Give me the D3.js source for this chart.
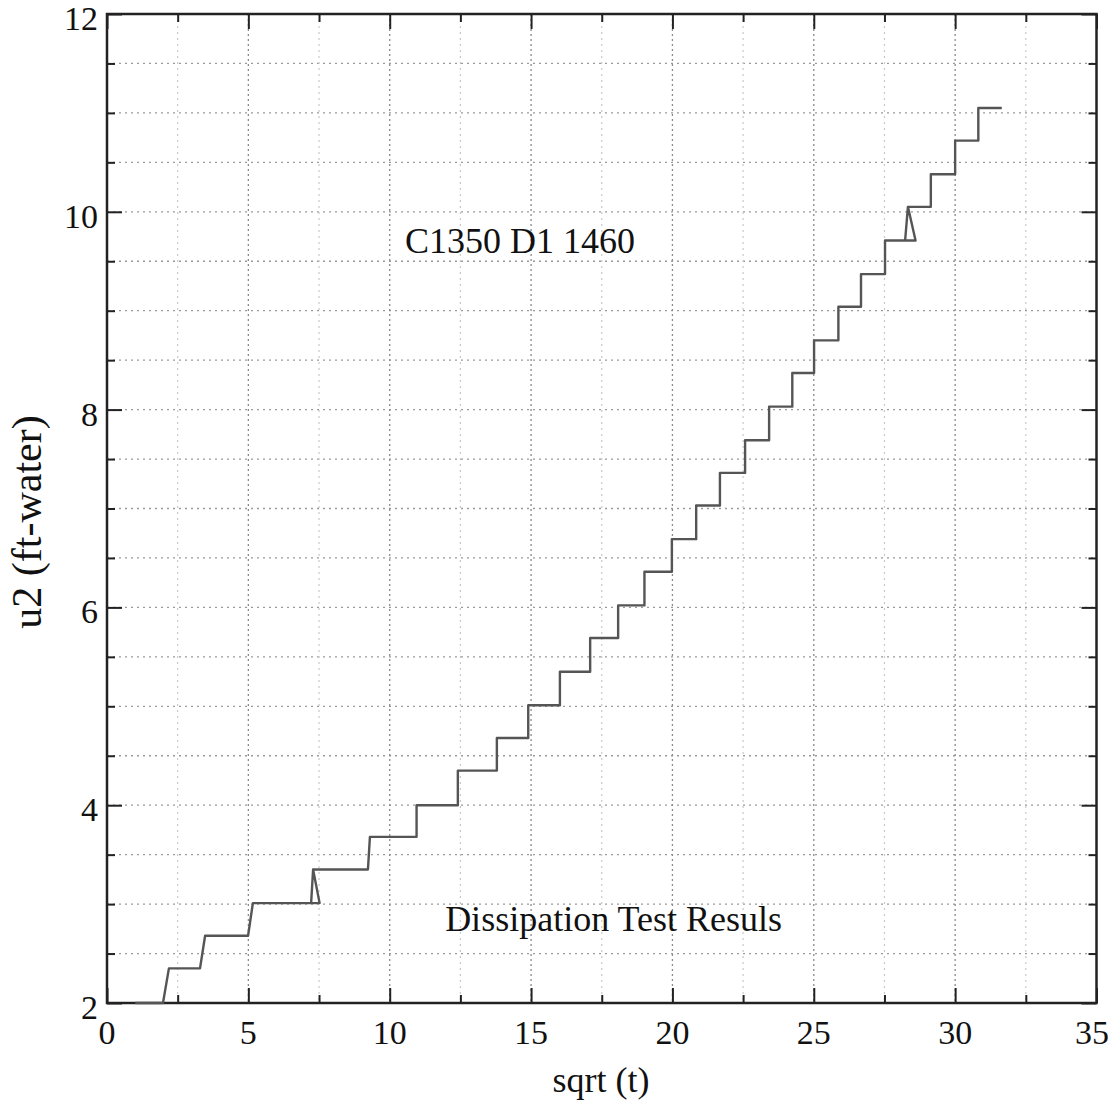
<!DOCTYPE html>
<html>
<head>
<meta charset="utf-8">
<script src="https://cdn.jsdelivr.net/npm/d3@7"></script>
<style>
  html, body { margin: 0; padding: 0; background: #fff; }
  svg { display: block; }
  text { font-family: "Liberation Serif", "DejaVu Serif", serif; fill: #111; }
</style>
</head>
<body>
<svg id="chart" width="1111" height="1105"></svg>
<script>
// ---- data ----
const sqrtT = [
  1.00, 1.98, 2.19, 3.29, 3.47, 4.99, 5.16,
  7.52, 7.29, 7.22, 7.29,
  9.23, 9.30, 10.95, 10.95, 12.41, 12.41, 13.79, 13.79, 14.90, 14.90,
  16.02, 16.02, 17.09, 17.09, 18.08, 18.08, 19.01, 19.01, 19.98, 19.98,
  20.84, 20.84, 21.68, 21.68, 22.57, 22.57, 23.42, 23.42, 24.24, 24.24,
  25.01, 25.01, 25.87, 25.87, 26.67, 26.67, 27.52, 27.52,
  28.60, 28.33, 28.23, 28.33,
  29.14, 29.14, 30.00, 30.00, 30.82, 30.82, 31.65
];
const u2 = [
  2.00, 2.00, 2.35, 2.35, 2.68, 2.68, 3.01,
  3.01, 3.35, 3.01, 3.35,
  3.35, 3.68, 3.68, 4.00, 4.00, 4.35, 4.35, 4.68, 4.68, 5.01,
  5.01, 5.35, 5.35, 5.69, 5.69, 6.02, 6.02, 6.36, 6.36, 6.69,
  6.69, 7.03, 7.03, 7.36, 7.36, 7.69, 7.69, 8.03, 8.03, 8.37,
  8.37, 8.70, 8.70, 9.04, 9.04, 9.37, 9.37, 9.71,
  9.71, 10.05, 9.71, 10.05,
  10.05, 10.38, 10.38, 10.72, 10.72, 11.05, 11.05
];
const xTickLabels = [0, 5, 10, 15, 20, 25, 30, 35];
const yTickLabels = [2, 4, 6, 8, 10, 12];
const xMinorTicks = [2.5, 7.5, 12.5, 17.5, 22.5, 27.5, 32.5];
const yMinorTicks = [2.5, 3, 3.5, 4.5, 5, 5.5, 6.5, 7, 7.5, 8.5, 9, 9.5, 10.5, 11, 11.5];
const annotations = [
  { text: "C1350 D1 1460", x: 10.54, y: 9.58 },
  { text: "Dissipation Test Resuls", x: 11.96, y: 2.73 }
];
const xTitle = "sqrt (t)";
const yTitle = "u2 (ft-water)";

// ---- layout ----
const L = 107, T = 14, R = 1096.5, B = 1003;
const x = d3.scaleLinear().domain([0, 35]).range([L, R]);
const y = d3.scaleLinear().domain([2, 12]).range([B, T]);
const svg = d3.select("#chart");

// grid
const grid = svg.append("g");
grid.selectAll("line.hg").data(yMinorTicks.concat([4, 6, 8, 10])).join("line")
  .attr("x1", L).attr("x2", R)
  .attr("y1", d => y(d)).attr("y2", d => y(d))
  .attr("stroke", "#9a9a9a").attr("stroke-width", 1.3)
  .attr("stroke-dasharray", "2,4");
grid.selectAll("line.vg5").data(xTickLabels.filter(d => d > 0 && d < 35)).join("line")
  .attr("x1", d => x(d)).attr("x2", d => x(d))
  .attr("y1", T).attr("y2", B)
  .attr("stroke", "#8a8a8a").attr("stroke-width", 1.3)
  .attr("stroke-dasharray", "2,3");
grid.append("g").selectAll("line").data(xMinorTicks).join("line")
  .attr("x1", d => x(d)).attr("x2", d => x(d))
  .attr("y1", T).attr("y2", B)
  .attr("stroke", "#c8c8c8").attr("stroke-width", 1.2)
  .attr("stroke-dasharray", "2,4");

// axes with inward ticks on all four sides
function tickAxis(axisFn, scale, values, size, transform) {
  svg.append("g").attr("transform", transform)
    .call(axisFn(scale).tickValues(values).tickSize(size).tickFormat(""))
    .call(g => g.select(".domain").remove())
    .call(g => g.selectAll("line").attr("stroke", "#222").attr("stroke-width", 2));
}
tickAxis(d3.axisBottom, x, xTickLabels, -15, `translate(0,${B})`);
tickAxis(d3.axisBottom, x, xMinorTicks, -8, `translate(0,${B})`);
tickAxis(d3.axisTop, x, xTickLabels, -15, `translate(0,${T})`);
tickAxis(d3.axisTop, x, xMinorTicks, -8, `translate(0,${T})`);
tickAxis(d3.axisLeft, y, yTickLabels, -15, `translate(${L},0)`);
tickAxis(d3.axisLeft, y, yMinorTicks, -8, `translate(${L},0)`);
tickAxis(d3.axisRight, y, yTickLabels, -15, `translate(${R},0)`);
tickAxis(d3.axisRight, y, yMinorTicks, -8, `translate(${R},0)`);

// tick labels
svg.append("g").selectAll("text").data(xTickLabels).join("text")
  .attr("x", d => Math.min(x(d), 1092)).attr("y", 1044)
  .attr("text-anchor", "middle").attr("font-size", 34)
  .text(d => d);
svg.append("g").selectAll("text").data(yTickLabels).join("text")
  .attr("x", 98).attr("y", d => y(d) + 16)
  .attr("text-anchor", "end").attr("font-size", 34)
  .text(d => d);

// frame
svg.append("rect").attr("x", L).attr("y", T).attr("width", R - L).attr("height", B - T)
  .attr("fill", "none").attr("stroke", "#222").attr("stroke-width", 2.5);

// data line
const pts = sqrtT.map((d, i) => [d, u2[i]]);
svg.append("path").datum(pts)
  .attr("fill", "none").attr("stroke", "#555").attr("stroke-width", 2.4)
  .attr("stroke-linejoin", "round")
  .attr("d", d3.line().x(d => x(d[0])).y(d => y(d[1])));

// annotations
svg.append("g").selectAll("text").data(annotations).join("text")
  .attr("x", d => x(d.x)).attr("y", d => y(d.y))
  .attr("font-size", 36)
  .text(d => d.text);

// axis titles
svg.append("text").attr("x", 601).attr("y", 1092)
  .attr("text-anchor", "middle").attr("font-size", 36).text(xTitle);
svg.append("text").attr("transform", `translate(41,522) rotate(-90)`)
  .attr("text-anchor", "middle").attr("font-size", 42).text(yTitle);
</script>
</body>
</html>
